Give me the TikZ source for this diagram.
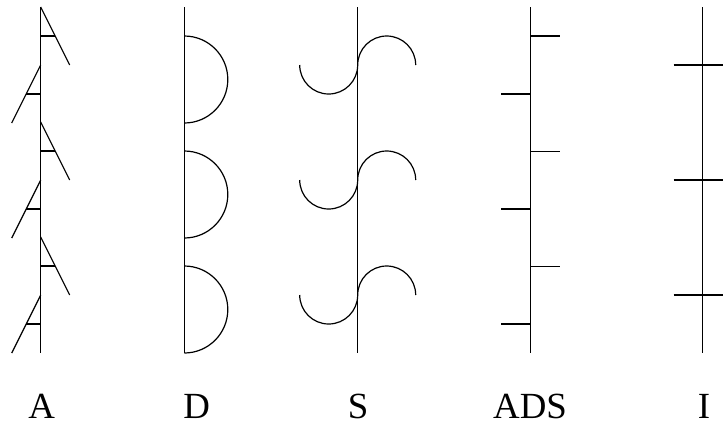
\documentclass[tikz,border=0pt]{standalone}
\usepackage{fontspec}
\setmainfont{Liberation Serif}
\begin{document}
\begin{tikzpicture}[x=1bp,y=-1bp,
  ln/.style={line width=1.2bp,line cap=butt},
  lab/.style={anchor=base,inner sep=0pt,font=\fontsize{37}{40}\selectfont}]
\useasboundingbox (0,0) rectangle (723,425);
\begin{scope}
\clip (0,0) rectangle (723,425);
% A
\draw[ln] (40.7,7) -- (40.7,353);
\foreach \y in {7,122,237}{
  \draw[ln] (40.7,\y) -- (69.7,\y+58);
  \draw[ln] (40.7,\y+29) -- (55.2,\y+29);
}
\foreach \y in {65,180,295}{
  \draw[ln] (40.7,\y) -- (11.7,\y+58);
  \draw[ln] (26.2,\y+29) -- (40.7,\y+29);
}
% D
\draw[ln] (184.3,7) -- (184.3,353);
\foreach \c in {79.5,194.5,309.5}{
  \draw[ln] (184.3,\c-43.5) arc[start angle=-90,end angle=90,radius=43.5];
}
% S
\draw[ln] (357.7,7) -- (357.7,353);
\foreach \c in {65,180,295}{
  \draw[ln] (299.7,\c) arc[start angle=180,end angle=0,radius=29]
                       arc[start angle=180,end angle=360,radius=29];
}
% ADS
\draw[ln] (530.3,7) -- (530.3,353);
\foreach \y in {36,151.7,266.7}{
  \draw[ln] (530.3,\y) -- (560.3,\y);
}
\foreach \y in {94,209,324}{
  \draw[ln] (501.3,\y) -- (530.3,\y);
}
% I
\draw[ln] (702.7,7) -- (702.7,353);
\foreach \y in {65,180,295}{
  \draw[ln] (673.7,\y) -- (731.7,\y);
}
\end{scope}
\node[lab] (la) at (41.7,418) {A};
\node[lab] (ld) at (196.7,418) {D};
\node[lab] (ls) at (358,418) {S};
\node[lab] (lads) at (530,418) {ADS};
\node[lab] (li) at (704,418) {I};
\end{tikzpicture}
\end{document}
